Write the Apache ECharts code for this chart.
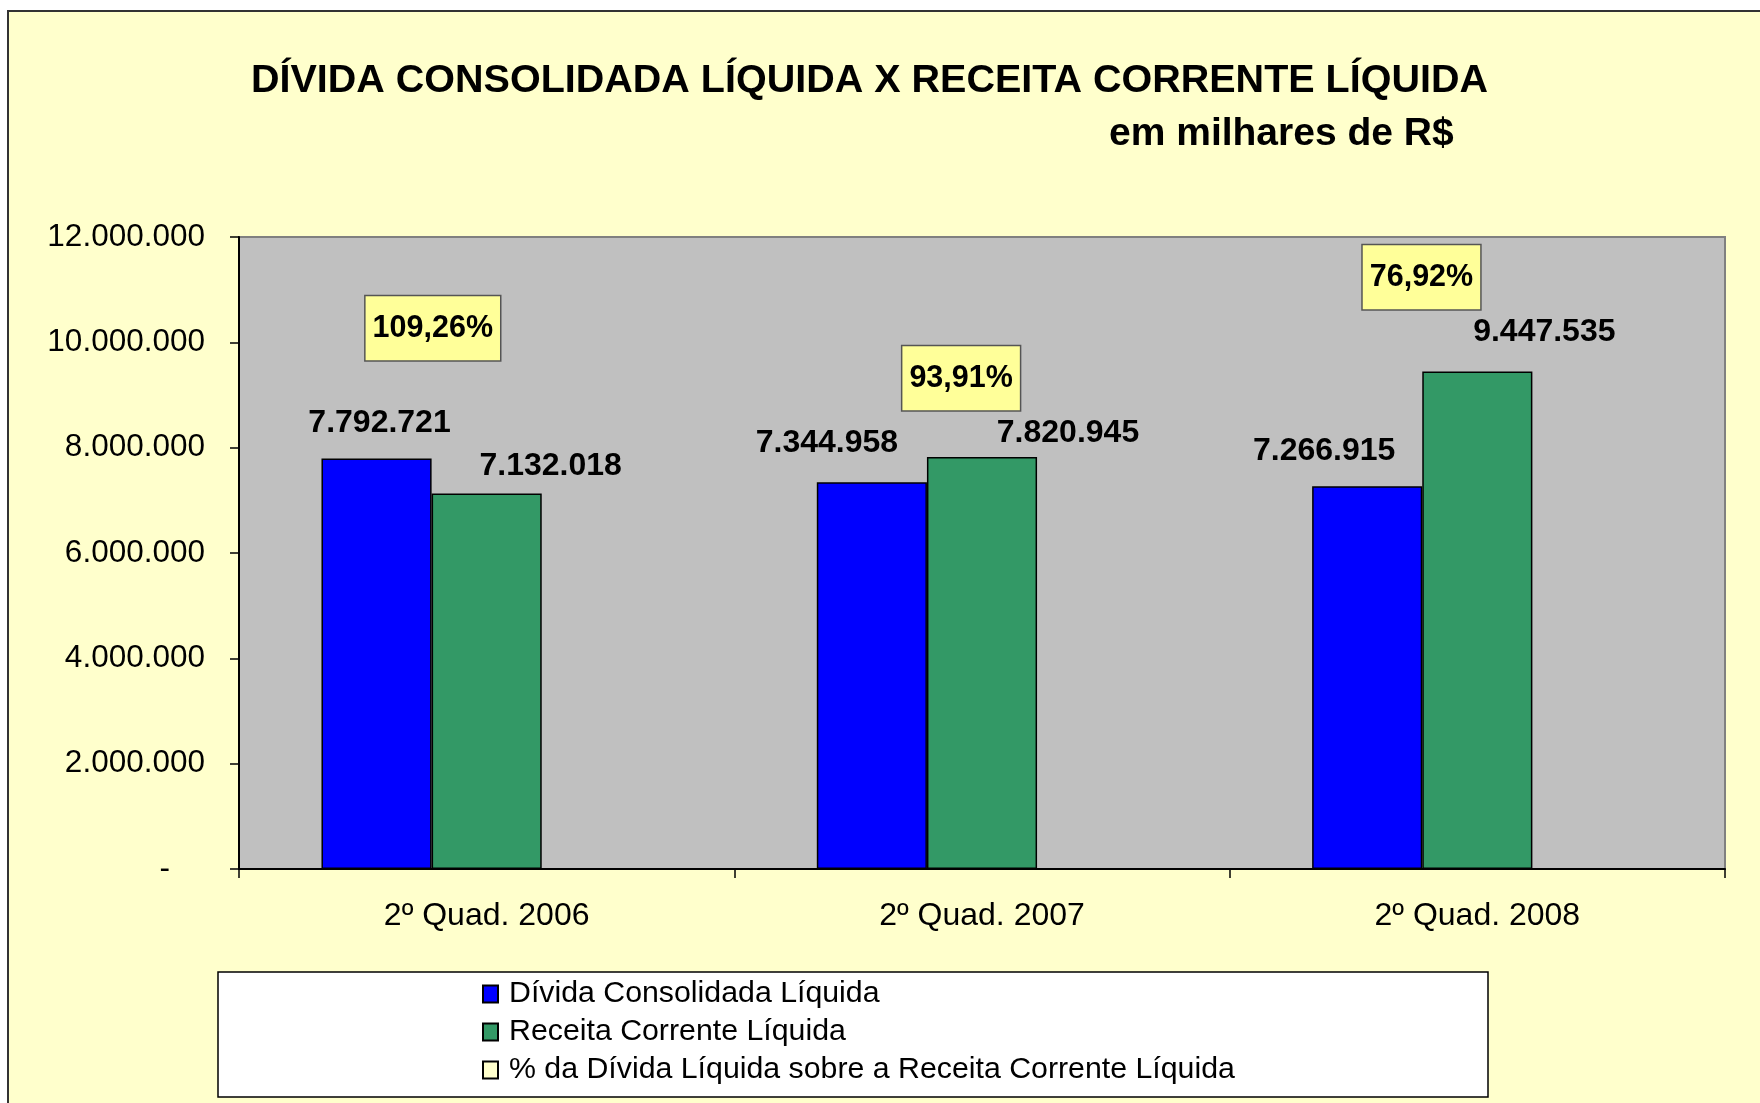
<!DOCTYPE html>
<html>
<head>
<meta charset="utf-8">
<script src="https://cdn.jsdelivr.net/npm/echarts@6/dist/echarts.min.js"></script>
<style>
html,body{margin:0;padding:0;background:#ffffff;}
#chart{width:1760px;height:1103px;}
</style>
</head>
<body>
<div id="chart"></div>
<script>
// ---- data ----
var categories = ['2º Quad. 2006', '2º Quad. 2007', '2º Quad. 2008'];
var dividaValues = [7792721, 7344958, 7266915];
var receitaValues = [7132018, 7820945, 9447535];
var percentValues = [109.26, 93.91, 76.92];
var seriesNames = ['Dívida Consolidada Líquida', 'Receita Corrente Líquida', '% da Dívida Líquida sobre a Receita Corrente Líquida'];
var yTicks = [0, 2000000, 4000000, 6000000, 8000000, 10000000, 12000000];
var titleText = 'DÍVIDA CONSOLIDADA LÍQUIDA X RECEITA CORRENTE LÍQUIDA';
var subtitleText = 'em milhares de R$';

// ---- label placement (styling, manually placed as in the original) ----
var dividaLabelOffsets = [[3, -20], [-45, -24], [-43, -20]];
var receitaLabelOffsets = [[64, -12], [86, -9], [67, -24]];
var percentLabelOffsets = [[-164, -508], [-131, -458], [-166, -559]];

var FONT = '"Liberation Sans", Arial, Helvetica, sans-serif';

function fmtThousands(v) {
  return String(Math.round(v)).replace(/\B(?=(\d{3})+(?!\d))/g, '.');
}
function fmtPct(v) {
  return v.toFixed(2).replace('.', ',') + '%';
}

function buildData(values, offsets) {
  return values.map(function (v, i) {
    return { value: v, label: { offset: offsets[i] } };
  });
}

var chart = echarts.init(document.getElementById('chart'), null, { renderer: 'canvas' });

var option = {
  backgroundColor: '#ffffff',
  animation: false,
  textStyle: { fontFamily: FONT, color: '#000' },
  graphic: [
    {
      type: 'rect', z: -10, silent: true,
      shape: { x: 8, y: 11, width: 1800, height: 1200 },
      style: { fill: '#FFFFCC', stroke: '#333333', lineWidth: 2 }
    },
    {
      type: 'text', z: 10,
      x: 251, y: 81,
      style: { text: titleText, font: 'bold 39.5px ' + FONT, fill: '#000', textVerticalAlign: 'middle', textAlign: 'left' }
    },
    {
      type: 'text', z: 10,
      x: 1109, y: 134,
      style: { text: subtitleText, font: 'bold 39px ' + FONT, fill: '#000', textVerticalAlign: 'middle', textAlign: 'left' }
    },
    {
      type: 'rect', z: 1, silent: true,
      shape: { x: 218, y: 972, width: 1270, height: 125 },
      style: { fill: '#ffffff', stroke: '#000000', lineWidth: 1.5 }
    }
  ],
  grid: {
    left: 239, right: 35, top: 237, bottom: 234,
    show: true, backgroundColor: '#C0C0C0', borderColor: '#808080', borderWidth: 2,
    containLabel: false
  },
  legend: {
    orient: 'vertical',
    left: 477, top: 974,
    itemWidth: 15, itemHeight: 17, itemGap: 8,
    z: 5,
    selectedMode: false,
    textStyle: { fontSize: 30.3, color: '#000', fontFamily: FONT, lineHeight: 30, padding: [0, 0, 0, 6] },
    data: seriesNames.map(function (n) { return { name: n, icon: 'rect' }; })
  },
  xAxis: {
    type: 'category',
    data: categories,
    axisLine: { show: true, lineStyle: { color: '#000', width: 2 } },
    axisTick: { show: true, length: 9, lineStyle: { color: '#000', width: 1.5 } },
    axisLabel: { fontSize: 32, color: '#000', margin: 31, fontFamily: FONT },
    splitLine: { show: false }
  },
  yAxis: {
    type: 'value',
    min: 0, max: 12000000, interval: 2000000,
    axisLine: { show: true, lineStyle: { color: '#000', width: 2 } },
    axisTick: { show: true, length: 9, lineStyle: { color: '#000', width: 1.5 } },
    axisLabel: {
      fontSize: 31.5, color: '#000', margin: 34, fontFamily: FONT,
      formatter: function (v) { return v === yTicks[0] ? '-    ' : fmtThousands(v); }
    },
    splitLine: { show: false }
  },
  series: [
    {
      name: seriesNames[0], type: 'bar',
      barGap: '0%', barCategoryGap: '33.3%',
      data: buildData(dividaValues, dividaLabelOffsets),
      itemStyle: { color: '#0000FF', borderColor: '#000', borderWidth: 1.5 },
      label: {
        show: true, position: 'top', distance: 0,
        fontSize: 32, fontWeight: 'bold', color: '#000', lineHeight: 30, fontFamily: FONT,
        formatter: function (p) { return fmtThousands(p.value); }
      }
    },
    {
      name: seriesNames[1], type: 'bar',
      barGap: '0%', barCategoryGap: '33.3%',
      data: buildData(receitaValues, receitaLabelOffsets),
      itemStyle: { color: '#339966', borderColor: '#000', borderWidth: 1.5 },
      label: {
        show: true, position: 'top', distance: 0,
        fontSize: 32, fontWeight: 'bold', color: '#000', lineHeight: 30, fontFamily: FONT,
        formatter: function (p) { return fmtThousands(p.value); }
      }
    },
    {
      name: seriesNames[2], type: 'bar',
      barGap: '0%', barCategoryGap: '33.3%',
      data: buildData(percentValues, percentLabelOffsets),
      itemStyle: { color: '#FFFFCC', borderColor: '#000', borderWidth: 1.5 },
      label: {
        show: true, position: 'top', distance: 0,
        fontSize: 30.5, fontWeight: 'bold', color: '#000', lineHeight: 30, fontFamily: FONT,
        backgroundColor: '#FFFF99', borderColor: '#555', borderWidth: 1.5,
        padding: [17, 7, 17, 7],
        formatter: function (p) { return fmtPct(p.value); }
      }
    }
  ]
};

chart.setOption(option);
</script>
</body>
</html>
